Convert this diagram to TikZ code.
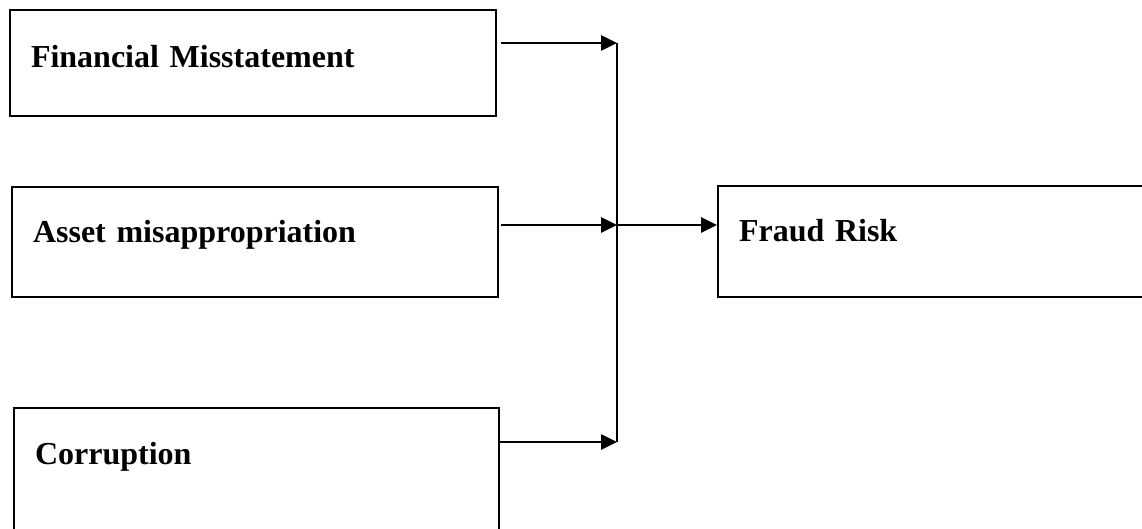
\documentclass[tikz,border=0pt]{standalone}
\usepackage{fontspec}
\setmainfont{Liberation Serif}
\usetikzlibrary{arrows.meta}

\begin{document}
\begin{tikzpicture}[x=1pt, y=-1pt]
\tikzset{BoxStyle/.style = {anchor= north west, draw, line width= 2pt, align= left, inner xsep= 21pt, inner ysep= 0pt, text height= 24pt, font= \fontsize{32}{38}\selectfont\bfseries},
  ArrowStyle/.style = {-{Triangle[length= 16pt, width= 15pt]}, line width= 2.6pt}
}
    \useasboundingbox (0,0) rectangle (1142,529);
    \clip (0,0) rectangle (1142,529);

    % Draw boxes
   \node[BoxStyle, minimum width= 486pt, minimum height= 106pt, text width= 444pt, text depth= 14pt] (fin) at (9,9) {Financial Misstatement};
   \node[BoxStyle, minimum width= 486pt, minimum height= 110pt, text width= 444pt, text depth= 22pt] (asset) at (11,186) {Asset misappropriation};
   \node[BoxStyle, minimum width= 485pt, minimum height= 130pt, text width= 443pt, text depth= 42pt] (corrupt) at (13,407) {Corruption};
   \node[BoxStyle, minimum width= 440pt, minimum height= 111pt, text width= 398pt, text depth= 23pt] (fraud) at (717,185) {Fraud Risk};

    % Draw joining line
   \coordinate (top) at (617,43);
   \coordinate (mid) at (617,225);
   \coordinate (bot) at (617,442);
   \draw[line width= 1.7pt] (top) -- (bot);

    % Draw arrows
   \draw[ArrowStyle] ([xshift= 4pt]fin.east |- top) -- (top);
   \draw[ArrowStyle] ([xshift= 2pt]asset.east |- mid) -- (mid);
   \draw[ArrowStyle] ([xshift= -1pt]corrupt.east |- bot) -- (bot);
   \draw[ArrowStyle] (mid) -- (fraud.west |- mid);
\end{tikzpicture}
\end{document}
